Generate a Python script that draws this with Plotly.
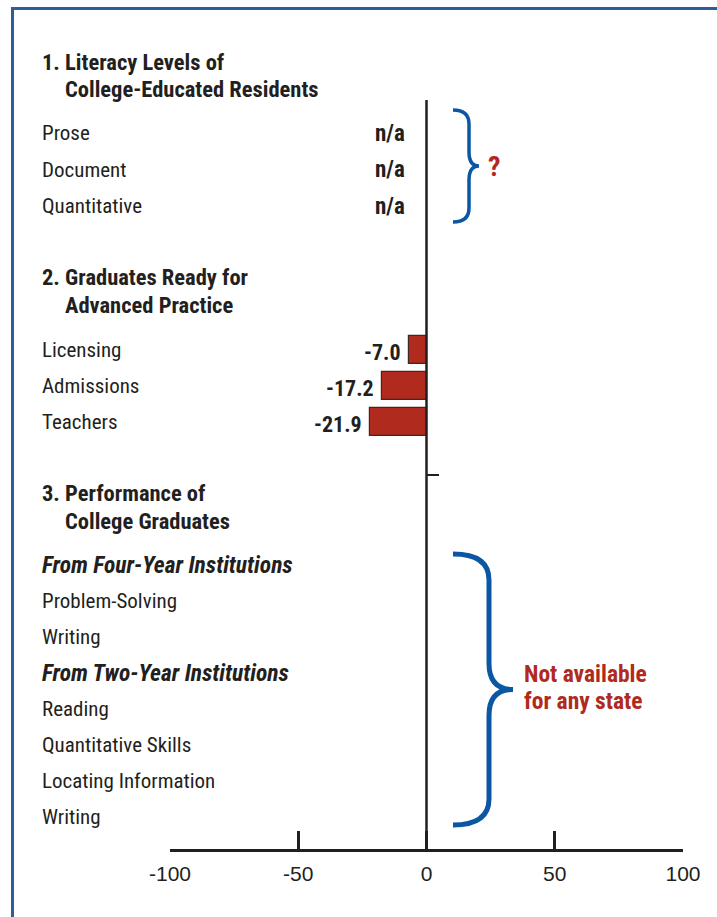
import plotly.graph_objects as go

# ---------------- data ----------------
literacy_labels = ["Prose", "Document", "Quantitative"]
literacy_values = [None, None, None]          # n/a

ready_labels = ["Licensing", "Admissions", "Teachers"]
ready_values = [-7.0, -17.2, -21.9]

perf_labels = ["From Four-Year Institutions", "Problem-Solving", "Writing",
               "From Two-Year Institutions", "Reading", "Quantitative Skills",
               "Locating Information", "Writing"]
perf_italic = [True, False, False, True, False, False, False, False]

x_tickvals = [-100, -50, 0, 50, 100]
x_ticktext = ["-100", "-50", "0", "50", "100"]

# ---------------- layout helpers ----------------
W, H = 717, 917
ML, MR, MT, MB = 170, 34, 0, 68
XMIN, XMAX = -100, 100
PLOT_W = W - ML - MR
PLOT_H = H - MT - MB


def px_to_paper_x(px):
    return (px - ML) / PLOT_W


def px_to_data_x(px):
    return XMIN + (px - ML) * (XMAX - XMIN) / PLOT_W


def py_to_paper_y(py):
    return (H - MB - py) / PLOT_H


NARROW = "Liberation Sans Narrow, Arial Narrow, Roboto Condensed, DejaVu Sans Condensed, sans-serif"
TXT = "#231f20"
RED = "#b02a1e"
BLUE = "#0b57a4"

sec1_y = [133 + 36.5 * i for i in range(len(literacy_labels))]
sec2_y = [350 + 36 * i for i in range(len(ready_labels))]
sec3_y = [565 + 36 * i for i in range(len(perf_labels))]

fig = go.Figure()

fig.add_trace(go.Bar(
    x=ready_values, y=sec2_y, orientation="h", width=28,
    marker=dict(color=RED, line=dict(color="#3a2a26", width=1.2)),
    hoverinfo="skip", showlegend=False,
))

annotations = []
LX, LX2 = 40, 63


def label(text, px, py, size=21, color=TXT, bold=False, italic=False,
          xanchor="left", family=NARROW):
    t = text
    if bold:
        t = "<b>" + t + "</b>"
    if italic:
        t = "<i>" + t + "</i>"
    annotations.append(dict(
        text=t, x=px_to_paper_x(px), y=py, xref="paper", yref="y",
        xanchor=xanchor, yanchor="middle", showarrow=False,
        font=dict(family=family, size=size, color=color)))


# section headers
HS = 22.5
label("1. Literacy Levels of", LX, 62, size=HS, bold=True)
label("College-Educated Residents", LX2, 89, size=HS, bold=True)
label("2. Graduates Ready for", LX, 277, size=HS, bold=True)
label("Advanced Practice", LX2, 305, size=HS, bold=True)
label("3. Performance of", LX, 493, size=HS, bold=True)
label("College Graduates", LX2, 521, size=HS, bold=True)

for t, y, v in zip(literacy_labels, sec1_y, literacy_values):
    label(t, LX, y)
    label("n/a" if v is None else f"{v:.1f}", 407, y, size=23, bold=True, xanchor="right")

for t, y, v in zip(ready_labels, sec2_y, ready_values):
    label(t, LX, y)
    annotations.append(dict(
        text=f"<b>{v:.1f}</b>", x=v, y=y + 2, xref="x", yref="y",
        xanchor="right", yanchor="middle", xshift=-6, showarrow=False,
        font=dict(family=NARROW, size=22, color=TXT)))

for t, y, it in zip(perf_labels, sec3_y, perf_italic):
    if it:
        label(t, LX, y, size=23.5, bold=True, italic=True)
    else:
        label(t, LX, y)

label("?", 486, 166, size=28, color=RED, bold=True)
label("Not available", 522, 674, size=23.5, color=RED, bold=True)
label("for any state", 522, 701, size=23.5, color=RED, bold=True)

# ---------------- shapes ----------------
shapes = []

# frame (top and left blue rules)
shapes.append(dict(type="line", xref="paper", yref="paper",
                   x0=px_to_paper_x(12), x1=px_to_paper_x(W + 5),
                   y0=py_to_paper_y(8.5), y1=py_to_paper_y(8.5),
                   line=dict(color="#2f5c9e", width=3)))
shapes.append(dict(type="line", xref="paper", yref="paper",
                   x0=px_to_paper_x(12.5), x1=px_to_paper_x(12.5),
                   y0=py_to_paper_y(7), y1=py_to_paper_y(H + 5),
                   line=dict(color="#2f5c9e", width=3)))

# zero line
shapes.append(dict(type="line", xref="x", yref="y", x0=0, x1=0, y0=100, y1=849,
                   line=dict(color=TXT, width=2.5)))
# small section tick
shapes.append(dict(type="line", xref="x", yref="y", x0=0, x1=px_to_data_x(439),
                   y0=475, y1=475, line=dict(color=TXT, width=2)))


def brace(x0, xv, xt, y0, y1, r):
    ym = (y0 + y1) / 2
    X = px_to_data_x
    return (f"M {X(x0)},{y0} "
            f"Q {X(xv)},{y0} {X(xv)},{y0 + r} "
            f"L {X(xv)},{ym - r} "
            f"Q {X(xv)},{ym} {X(xt)},{ym} "
            f"Q {X(xv)},{ym} {X(xv)},{ym + r} "
            f"L {X(xv)},{y1 - r} "
            f"Q {X(xv)},{y1} {X(x0)},{y1}")


shapes.append(dict(type="path", xref="x", yref="y",
                   path=brace(453, 469, 479, 110, 222, 14),
                   line=dict(color=BLUE, width=3.5)))
shapes.append(dict(type="path", xref="x", yref="y",
                   path=brace(453, 489, 513, 554, 825, 26),
                   line=dict(color=BLUE, width=5)))

fig.update_layout(
    width=W, height=H,
    margin=dict(l=ML, r=MR, t=MT, b=MB, pad=0),
    paper_bgcolor="white", plot_bgcolor="white",
    annotations=annotations, shapes=shapes,
    xaxis=dict(range=[XMIN, XMAX], tickvals=x_tickvals, ticktext=x_ticktext,
               showline=True, linewidth=3, linecolor=TXT,
               ticks="inside", ticklen=18, tickwidth=3, tickcolor=TXT,
               showgrid=False, zeroline=False, ticklabelstandoff=4,
               tickfont=dict(family="Liberation Sans, Arial, sans-serif", size=21, color=TXT)),
    yaxis=dict(range=[849, 0], visible=False, showgrid=False, zeroline=False),
    bargap=0,
)

fig.write_html(
    "out.html",
    config={"displayModeBar": False},
    post_script="document.body.style.margin='0';document.body.style.overflow='hidden';",
)
